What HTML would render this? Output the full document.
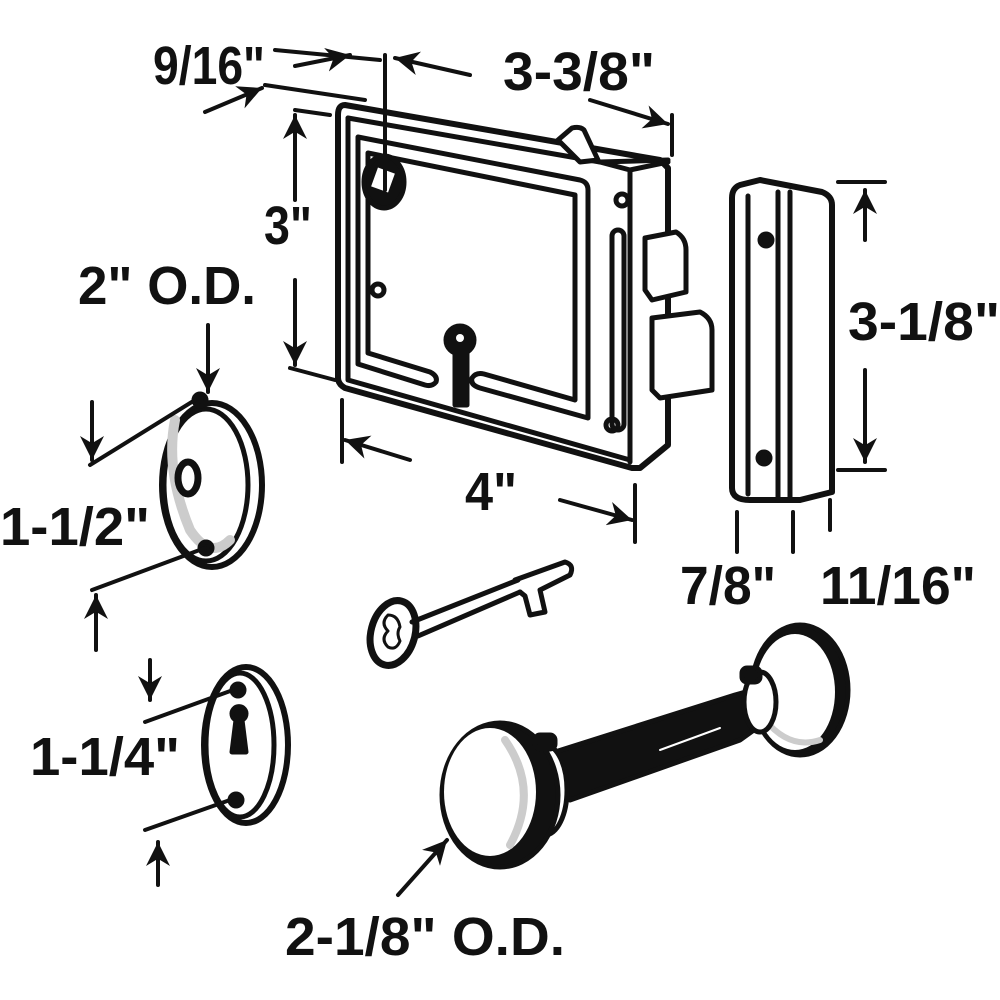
<!DOCTYPE html>
<html><head><style>
html,body{margin:0;padding:0;background:#fff}
svg{display:block}
text{font-family:"Liberation Sans Narrow","Liberation Sans",sans-serif;font-weight:bold;font-size:54px;fill:#111}
</style></head><body>
<svg width="1000" height="1000" viewBox="0 0 1000 1000" xmlns="http://www.w3.org/2000/svg">
<defs>
<marker id="a" viewBox="0 0 10 10" refX="10" refY="5" markerWidth="6" markerHeight="6" orient="auto-start-reverse"><path d="M0,0 L10,5 L0,10 L3,5 z" fill="#111"/></marker>
</defs>
<g stroke="#111" stroke-width="5" fill="none" stroke-linejoin="round" stroke-linecap="round">
<!-- lock body -->
<path d="M345,105 L660,160 L668,168 L668,445 L640,468 L632,468 L345,388 Q338,384 338,378 L338,115 Q338,105 345,105 Z" fill="#fff" stroke-width="6"/>
<path d="M348,118 L600,162 L630,170 L630,462" />
<path d="M600,162 L668,160"/>
<path d="M630,170 L668,162"/>
<path d="M348,118 L348,380 L630,460"/>
<path d="M358,137 L580,180 Q588,182 588,190 L588,418 L480,388 Q470,385 472,378 Q476,372 484,374 L575,400 L575,195 L368,153 L368,353 L430,372 Q438,376 436,382 Q432,387 425,385 L358,364 Z"/>
<rect x="612" y="230" width="12" height="200" rx="6"/>
<circle cx="622" cy="200" r="6"/><circle cx="612" cy="425" r="6"/>
<circle cx="378" cy="290" r="6"/>
<!-- spindle hole -->
<ellipse cx="384" cy="182" rx="20" ry="26" fill="#111"/>
<rect x="374" y="170" width="18" height="20" fill="#fff" stroke="none" transform="rotate(20 383 180)"/>
<!-- keyhole -->
<circle cx="460" cy="340" r="14" fill="#111"/>
<rect x="455" y="345" width="12" height="60" fill="#111"/>
<circle cx="460" cy="338" r="4" fill="#fff" stroke="none"/>
<!-- latch top -->
<path d="M558,140 L572,128 Q580,126 584,130 L598,160 L580,162 Z" fill="#fff"/>
<!-- bolt -->
<path d="M645,238 L676,232 Q686,238 686,250 L686,292 L652,300 L645,290 Z" fill="#fff"/>
<path d="M652,318 L700,312 Q712,318 712,330 L712,390 L660,398 L652,390 Z" fill="#fff"/>
<!-- strike plate -->
<path d="M740,185 L760,180 L822,192 Q832,196 832,205 L832,492 L800,500 L750,500 Q732,500 732,488 L732,198 Q732,188 740,185 Z" fill="#fff" stroke-width="6"/>
<path d="M748,196 L748,494 M778,192 L778,500 M790,192 L790,498"/>
<circle cx="766" cy="240" r="6" fill="#111"/><circle cx="764" cy="458" r="6" fill="#111"/>
<!-- round escutcheon -->
<ellipse cx="212" cy="485" rx="50" ry="82" fill="#fff" stroke-width="6"/>
<ellipse cx="206" cy="485" rx="42" ry="76" fill="#fff"/>
<path d="M175,420 Q165,470 190,530 Q210,560 230,540" stroke="#ccc" stroke-width="10"/>
<ellipse cx="188" cy="478" rx="10" ry="16" stroke-width="7"/>
<circle cx="200" cy="400" r="6" fill="#111"/><circle cx="206" cy="548" r="6" fill="#111"/>
<!-- keyhole escutcheon -->
<ellipse cx="246" cy="745" rx="42" ry="78" fill="#fff" stroke-width="6"/>
<ellipse cx="240" cy="745" rx="34" ry="72" fill="#fff"/>
<path d="M236,720 a7,7 0 1 1 6,0 L246,752 L232,752 Z" fill="#111"/>
<circle cx="238" cy="690" r="6" fill="#111"/><circle cx="236" cy="800" r="6" fill="#111"/>
<!-- key -->
<ellipse cx="393" cy="633" rx="22" ry="33" fill="#fff" stroke-width="7" transform="rotate(15 393 633)"/>
<path d="M388,615 q-8,8 0,16 q-8,8 0,16 q8,4 12,-6 q-4,-8 0,-14 q-2,-12 -12,-12z" stroke-width="3"/>
<path d="M412,622 L518,580 M418,636 L520,592" stroke-width="5"/>
<path d="M515,580 L565,562 Q575,565 570,575 L540,590 L545,612 L530,615 L525,596 L520,592"/>
<!-- knobs -->
<path d="M540,770 L555,752 L735,695 L760,688 L765,722 L740,740 L570,800 Z" fill="#111"/>
<path d="M660,750 L720,728" stroke="#fff" stroke-width="2"/>
<ellipse cx="800" cy="690" rx="48" ry="65" fill="#111"/>
<ellipse cx="795" cy="692" rx="40" ry="58" fill="#fff" stroke="none"/>
<path d="M765,720 Q790,750 820,740" stroke="#ccc" stroke-width="6"/>
<ellipse cx="760" cy="702" rx="16" ry="30" fill="#fff"/>
<ellipse cx="545" cy="790" rx="22" ry="45" fill="#fff"/>
<ellipse cx="500" cy="795" rx="58" ry="72" fill="#111"/>
<ellipse cx="490" cy="792" rx="46" ry="64" fill="#fff" stroke="none"/>
<path d="M505,740 Q540,790 510,845" stroke="#ccc" stroke-width="8"/>
<rect x="535" y="735" width="20" height="14" rx="5" fill="#111"/>
<rect x="742" y="668" width="18" height="14" rx="5" fill="#111"/>
<!-- dimension lines -->
<g stroke-width="4">
<path d="M265,85 L365,100 M275,50 L380,60"/>
<path d="M385,55 L385,190"/>
<path d="M205,112 L262,88" marker-end="url(#a)"/>
<path d="M295,66 L350,55" marker-end="url(#a)"/>
<path d="M470,75 L395,58" marker-end="url(#a)"/>
<path d="M590,100 L668,124" marker-end="url(#a)"/>
<path d="M672,115 L672,155"/>
<path d="M295,110 L330,115"/>
<path d="M295,200 L295,115" marker-end="url(#a)"/>
<path d="M295,280 L295,365" marker-end="url(#a)"/>
<path d="M290,368 L335,380"/>
<path d="M342,400 L342,462"/>
<path d="M410,460 L345,440" marker-end="url(#a)"/>
<path d="M560,500 L632,520" marker-end="url(#a)"/>
<path d="M635,485 L635,542"/>
<path d="M838,182 L885,182 M838,470 L885,470"/>
<path d="M865,240 L865,190" marker-end="url(#a)"/>
<path d="M865,370 L865,462" marker-end="url(#a)"/>
<path d="M737,512 L737,552 M793,512 L793,552 M830,500 L830,530"/>
<path d="M208,325 L208,392" marker-end="url(#a)"/>
<path d="M90,465 L195,400 M92,590 L205,548"/>
<path d="M92,402 L92,460" marker-end="url(#a)"/>
<path d="M96,650 L96,595" marker-end="url(#a)"/>
<path d="M145,722 L233,690 M145,830 L230,800"/>
<path d="M150,660 L150,700" marker-end="url(#a)"/>
<path d="M158,885 L158,842" marker-end="url(#a)"/>
<path d="M398,895 L447,840" marker-end="url(#a)"/>
</g>
</g>
<text x="153" y="84" textLength="112" lengthAdjust="spacingAndGlyphs">9/16"</text>
<text x="503" y="90" textLength="152" lengthAdjust="spacingAndGlyphs">3-3/8"</text>
<text x="264" y="244" textLength="48" lengthAdjust="spacingAndGlyphs">3"</text>
<text x="78" y="304" textLength="178" lengthAdjust="spacingAndGlyphs">2" O.D.</text>
<text x="848" y="340" textLength="152" lengthAdjust="spacingAndGlyphs">3-1/8"</text>
<text x="0" y="545" textLength="150" lengthAdjust="spacingAndGlyphs">1-1/2"</text>
<text x="465" y="510" textLength="52" lengthAdjust="spacingAndGlyphs">4"</text>
<text x="680" y="604" textLength="96" lengthAdjust="spacingAndGlyphs">7/8"</text>
<text x="820" y="604" textLength="156" lengthAdjust="spacingAndGlyphs">11/16"</text>
<text x="30" y="775" textLength="150" lengthAdjust="spacingAndGlyphs">1-1/4"</text>
<text x="285" y="955" textLength="280" lengthAdjust="spacingAndGlyphs">2-1/8" O.D.</text>
</svg>
</body></html>
